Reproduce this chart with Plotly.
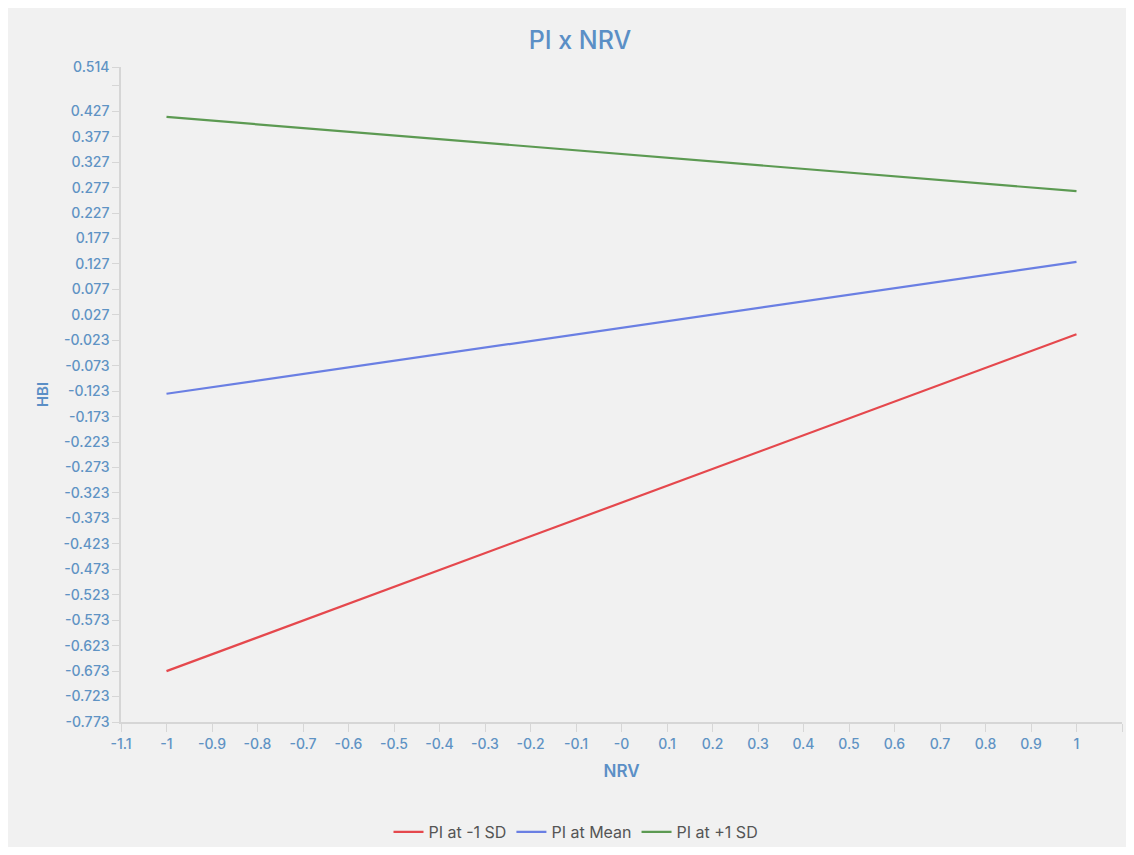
import plotly.graph_objects as go

nrv = [-1, 1]
pi_low = [-0.673, -0.011]
pi_mean = [-0.128, 0.131]
pi_high = [0.416, 0.270]

series_names = ["PI at -1 SD", "PI at Mean", "PI at +1 SD"]
series_colors = ["#e5484d", "#6a7fe3", "#5c9a52"]

x_ticks = [round(-1.1 + 0.1 * i, 1) for i in range(23)]
x_labels = ["-0" if abs(v) < 1e-9 else ("%g" % v) for v in x_ticks]
y_ticks = [0.514, 0.477] + [round(0.427 - 0.05 * i, 3) for i in range(25)]
y_labels = ["0.514", ""] + ["%.3f" % v for v in y_ticks[2:]]

W, H = 1118, 839
L, T = 113, 59
R = W - 1114
B = H - 714
pw = W - L - R
ph = H - T - B

FONT = "Inter, Noto Sans, sans-serif"
BLUE_TXT = "#5b8fc6"

fig = go.Figure()
for vals, name, col in zip([pi_low, pi_mean, pi_high], series_names, series_colors):
    fig.add_trace(go.Scatter(x=nrv, y=vals, mode="lines", name=name,
                             line=dict(color=col, width=2.2)))

tick_font = dict(family=FONT, size=14, color="#5f93c4", weight=500)
fig.update_layout(
    width=W, height=H,
    margin=dict(l=L, r=R, t=T, b=B, autoexpand=False),
    paper_bgcolor="#f1f1f1",
    plot_bgcolor="#f1f1f1",
    title=dict(text="PI x NRV", x=572 / W, xanchor="center", y=1 - 32 / H, yanchor="middle",
               font=dict(family=FONT, size=25, color=BLUE_TXT, weight=500)),
    xaxis=dict(range=[-1.1, 1.1], tickvals=x_ticks, ticktext=x_labels,
               showgrid=False, zeroline=False, showline=True, linecolor="#d6d6d6", linewidth=1.5,
               ticks="outside", ticklen=8, tickcolor="#d6d6d6", tickfont=tick_font,
               title=dict(text="NRV", font=dict(family=FONT, size=17, color=BLUE_TXT, weight=600),
                          standoff=15)),
    yaxis=dict(range=[-0.773, 0.514], tickvals=y_ticks, ticktext=y_labels,
               showgrid=False, zeroline=False, showline=True, linecolor="#d6d6d6", linewidth=1.5,
               ticks="outside", ticklen=7, tickcolor="#d6d6d6", tickfont=tick_font,
               title=dict(text="HBI", font=dict(family=FONT, size=15, color=BLUE_TXT, weight=600),
                          standoff=11)),
    legend=dict(orientation="h", x=(568 - L) / pw, xanchor="center",
                y=-(824 - 714) / ph, yanchor="middle",
                font=dict(family=FONT, size=16, color="#555555"),
                bgcolor="rgba(0,0,0,0)", itemwidth=30),
    showlegend=True,
)

fig.write_html("out.html")
